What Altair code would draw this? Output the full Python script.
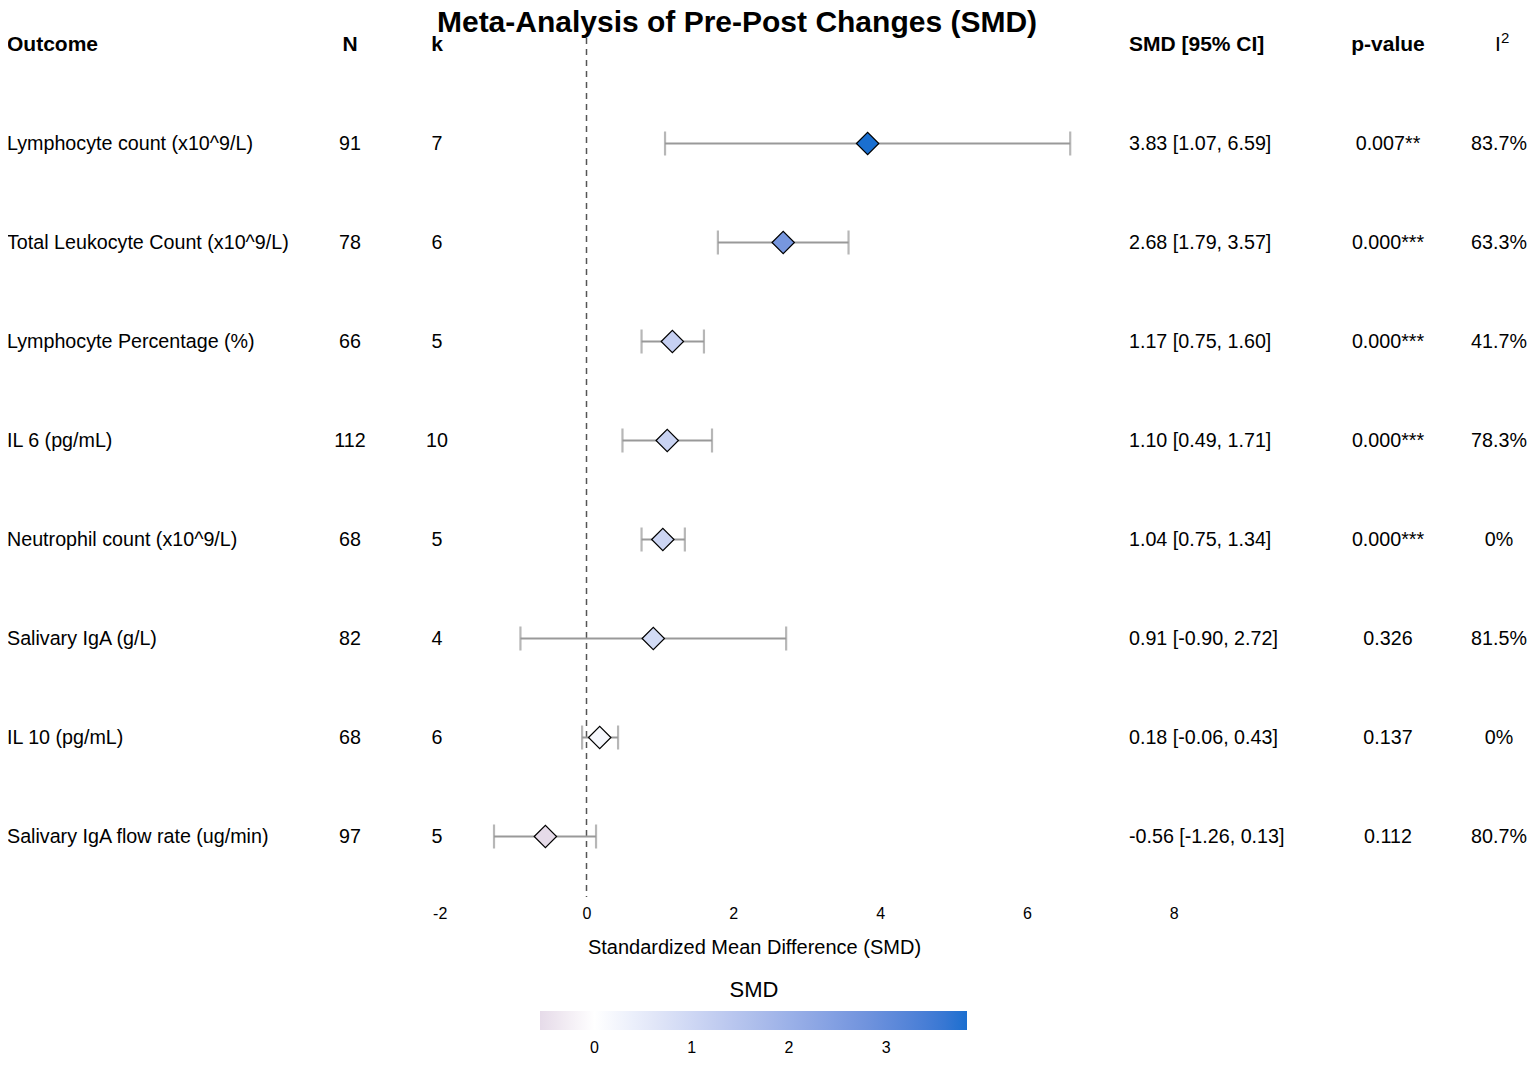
import altair as alt
import pandas as pd

outcomes = [
    "Lymphocyte count (x10^9/L)",
    "Total Leukocyte Count (x10^9/L)",
    "Lymphocyte Percentage (%)",
    "IL 6 (pg/mL)",
    "Neutrophil count (x10^9/L)",
    "Salivary IgA (g/L)",
    "IL 10 (pg/mL)",
    "Salivary IgA flow rate (ug/min)",
]
n_vals = [91, 78, 66, 112, 68, 82, 68, 97]
k_vals = [7, 6, 5, 10, 5, 4, 6, 5]
smd_vals = [3.83, 2.68, 1.17, 1.10, 1.04, 0.91, 0.18, -0.56]
ci_low = [1.07, 1.79, 0.75, 0.49, 0.75, -0.90, -0.06, -1.26]
ci_high = [6.59, 3.57, 1.60, 1.71, 1.34, 2.72, 0.43, 0.13]
p_labels = ["0.007**", "0.000***", "0.000***", "0.000***", "0.000***", "0.326", "0.137", "0.112"]
i2_labels = ["83.7%", "63.3%", "41.7%", "78.3%", "0%", "81.5%", "0%", "80.7%"]
headers = ["Outcome", "N", "k", "SMD [95% CI]", "p-value"]
i2_header = ["I", "2"]
x_ticks = [-2, 0, 2, 4, 6, 8]
legend_ticks = [0, 1, 2, 3]
chart_title = "Meta-Analysis of Pre-Post Changes (SMD)"

df = pd.DataFrame({
    "row": list(range(len(outcomes))),
    "outcome": outcomes,
    "n": [str(v) for v in n_vals],
    "k": [str(v) for v in k_vals],
    "smd": smd_vals,
    "lower": ci_low,
    "upper": ci_high,
    "ci": [f"{s:.2f} [{lo:.2f}, {hi:.2f}]" for s, lo, hi in zip(smd_vals, ci_low, ci_high)],
    "p": p_labels,
    "i2": i2_labels,
})
hdr = pd.DataFrame({"row": [-1], "outcome": [headers[0]], "n": [headers[1]], "k": [headers[2]],
                    "ci": [headers[3]], "p": [headers[4]],
                    "iI": [i2_header[0]], "i2sup": [i2_header[1]]})

FONT = "Liberation Sans"
W, H = 1519, 890
PAD_BOTTOM = 160
X0, Y0 = 8, 8
xscale = alt.Scale(domain=[(X0 - 586.5) / 73.4, (X0 + W - 586.5) / 73.4], nice=False, zero=False)
yscale = alt.Scale(domain=[(Y0 - 143.5) / 99, (Y0 + H - 143.5) / 99], nice=False, zero=False, reverse=True)
xtitle = "Standardized Mean Difference (SMD)"
xaxis = alt.Axis(values=x_ticks, grid=False, domain=False, ticks=False, labelFontSize=16,
                 labelFont=FONT, labelColor="black", labelPadding=7,
                 labelExpr="'' + datum.value", title=xtitle,
                 titleFont=FONT, titleFontSize=20, titleFontWeight="normal", titleColor="black",
                 titlePadding=16, titleX=754 - X0, titleAnchor="start", titleAlign="center")

Y = lambda: alt.Y("row:Q", scale=yscale, axis=None)

base = alt.Chart(df)

zero_line = alt.Chart(pd.DataFrame({"z": [0]})).mark_rule(
    color="#555555", strokeDash=[6, 5], strokeWidth=1.5
).encode(x=alt.X("z:Q", scale=xscale, axis=xaxis), y=alt.value(30), y2=alt.value(889))

GRAY = "#999999"
bars = base.mark_rule(color=GRAY, strokeWidth=2.2).encode(
    x=alt.X("lower:Q", scale=xscale, axis=xaxis), x2="upper:Q", y=Y())
cap_lo = base.mark_tick(color=GRAY, thickness=2.2, size=24, orient="vertical").encode(
    x=alt.X("lower:Q", scale=xscale, axis=xaxis), y=Y())
cap_hi = base.mark_tick(color=GRAY, thickness=2.2, size=24, orient="vertical").encode(
    x=alt.X("upper:Q", scale=xscale, axis=xaxis), y=Y())

fill_scale = alt.Scale(domain=[min(smd_vals), 0, max(smd_vals)],
                       range=["#e6dbe9", "#ffffff", "#1a6fd0"], interpolate="lab")
diamonds = base.mark_point(shape="diamond", filled=True, size=500, stroke="black",
                           strokeWidth=1.2, opacity=1).encode(
    x=alt.X("smd:Q", scale=xscale, axis=xaxis), y=Y(),
    fill=alt.Fill("smd:Q", scale=fill_scale,
                  legend=alt.Legend(title="SMD", orient="none", direction="horizontal",
                                    legendX=540 - X0, legendY=972, values=legend_ticks,
                                    format="d",
                                    gradientLength=427, gradientThickness=19,
                                    gradientStrokeWidth=0, titleAnchor="middle",
                                    titleFontSize=22, titleFontWeight="normal", titleFont=FONT,
                                    titleColor="black", titlePadding=9, labelFontSize=16,
                                    labelFont=FONT, labelColor="black", labelOffset=10,
                                    padding=0)))


def text_layer(data, field, xpix, align, size=19.7, bold=False, dy=0):
    return alt.Chart(data).mark_text(
        align=align, baseline="middle", fontSize=size, font=FONT, color="black",
        fontWeight="bold" if bold else "normal", dy=dy
    ).encode(x=alt.value(xpix - X0), y=Y(), text=f"{field}:N")


cols = [("outcome", 7, "left"), ("n", 350, "center"), ("k", 437, "center"),
        ("ci", 1129, "left"), ("p", 1388, "center"), ("i2", 1499, "center")]
texts = []
for f, xp, al in cols:
    texts.append(text_layer(df, f, xp, al))
    if f != "i2":
        texts.append(text_layer(hdr, f, xp, al, size=21, bold=True))
texts.append(text_layer(hdr, "iI", 1498, "center", size=21))
texts.append(text_layer(hdr, "i2sup", 1501, "left", size=15, dy=-7))

title = alt.Chart(pd.DataFrame({"t": [chart_title]})).mark_text(
    align="center", baseline="alphabetic", fontSize=30, fontWeight="bold", font=FONT, color="black"
).encode(x=alt.value(737 - X0), y=alt.value(32 - Y0), text="t:N")

chart = alt.layer(zero_line, bars, cap_lo, cap_hi, diamonds, *texts, title).properties(
    width=W, height=H, background="white",
    padding={"left": 0, "top": 0, "right": 0, "bottom": PAD_BOTTOM},
    autosize=alt.AutoSizeParams(type="none"),
).configure_view(strokeWidth=0)

chart.save("out.html", embed_options={"renderer": "svg", "actions": False})
